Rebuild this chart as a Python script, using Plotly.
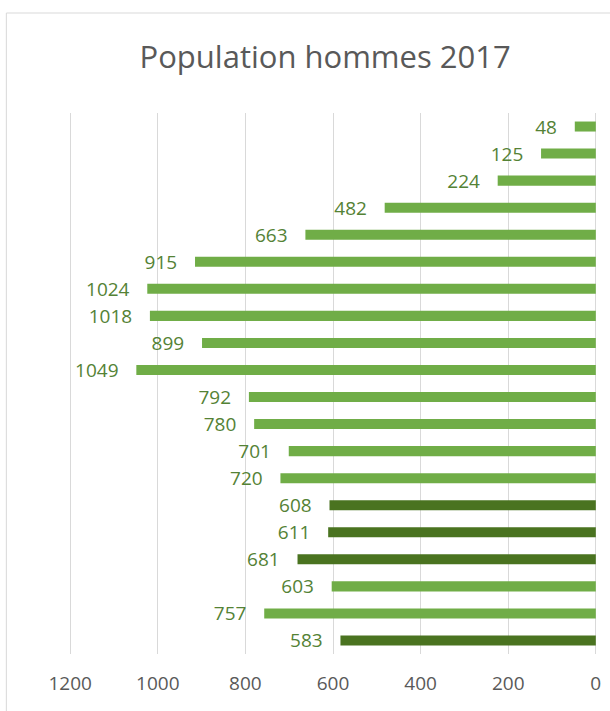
import plotly.graph_objects as go

categories = ["0-4", "5-9", "10-14", "15-19", "20-24", "25-29", "30-34", "35-39", "40-44",
              "45-49", "50-54", "55-59", "60-64", "65-69", "70-74", "75-79", "80-84",
              "85-89", "90-94", "95+"]
values = [583, 757, 603, 681, 611, 608, 720, 701, 780, 792, 1049, 899, 1018, 1024, 915,
          663, 482, 224, 125, 48]
dark_groups = ["0-4", "15-19", "20-24", "25-29"]
x_ticks = [1200, 1000, 800, 600, 400, 200, 0]

LIGHT = "#70AD47"
DARK = "#4A7320"
colors = [DARK if c in dark_groups else LIGHT for c in categories]
NB = "\u00a0"

fig = go.Figure(go.Bar(
    y=categories, x=values, orientation="h",
    marker=dict(color=colors, line=dict(width=0)),
    text=[str(v) + NB * 3 for v in values], textposition="outside",
    textfont=dict(family="Open Sans", size=19, color="#548235"),
    constraintext="none",
    cliponaxis=False,
    hoverinfo="skip",
))

fig.update_layout(
    width=610, height=711,
    margin=dict(l=68, r=9, t=113, b=57),
    paper_bgcolor="white", plot_bgcolor="white",
    bargap=0.63,
    showlegend=False,
    title=dict(text="Population hommes 2017", x=0.533, xanchor="center", y=0.92, yanchor="middle",
               font=dict(family="Open Sans", size=31, color="#595959")),
    xaxis=dict(range=[1205, -5], tickvals=x_ticks, showgrid=True, gridcolor="#D9D9D9",
               gridwidth=1, zeroline=False, showline=False, ticks="",
               ticklabelstandoff=16,
               tickfont=dict(family="Open Sans", size=19, color="#595959")),
    yaxis=dict(showticklabels=False, showgrid=False, zeroline=False, ticks="",
               categoryorder="array", categoryarray=categories),
    shapes=[dict(type="rect", xref="paper", yref="paper",
                 x0=(6 - 68) / 533, x1=1.2, y0=-0.3, y1=1 + (113 - 13) / 541,
                 line=dict(color="#D9D9D9", width=1), fillcolor="rgba(0,0,0,0)")],
)

fig.write_html("out.html", config={"displayModeBar": False},
               post_script="document.body.style.margin='0';document.body.style.overflow='hidden';")
